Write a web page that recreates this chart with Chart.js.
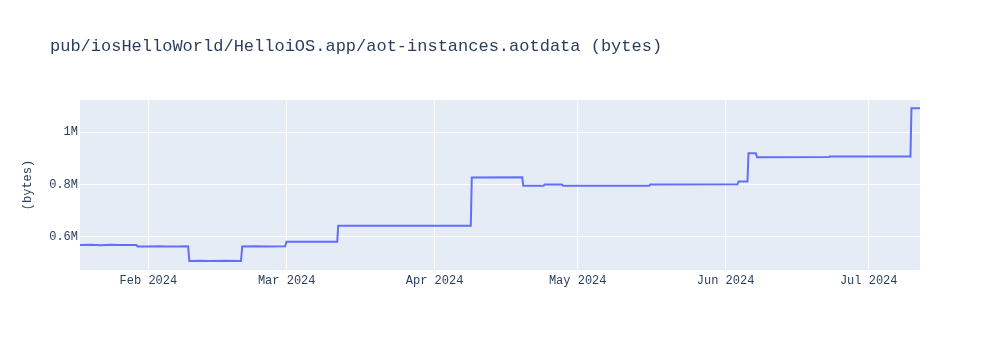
<!DOCTYPE html>
<html>
<head>
<meta charset="utf-8">
<script src="https://cdn.jsdelivr.net/npm/chart.js@4"></script>
<style>
  html, body { margin: 0; padding: 0; background: #fff; }
  #wrap { width: 1000px; height: 350px; position: relative; }
</style>
</head>
<body>
<div id="wrap"><canvas id="chart"></canvas></div>
<script>
// datos
const dates = [
  "2024-01-17T16:00", "2024-01-20T00:00", "2024-01-22T00:00", "2024-01-24T00:00",
  "2024-01-26T00:00", "2024-01-28T00:00", "2024-01-29T12:00", "2024-01-29T18:00",
  "2024-02-01T00:00", "2024-02-03T00:00", "2024-02-05T00:00", "2024-02-07T00:00",
  "2024-02-09T08:00", "2024-02-09T14:00", "2024-02-12T00:00", "2024-02-14T00:00",
  "2024-02-17T00:00", "2024-02-20T10:00", "2024-02-20T16:00", "2024-02-23T00:00",
  "2024-02-26T00:00", "2024-02-29T16:00", "2024-02-29T23:00", "2024-03-11T14:00",
  "2024-03-11T19:00", "2024-04-08T14:00", "2024-04-08T19:00", "2024-04-19T09:00",
  "2024-04-19T14:00", "2024-04-23T20:00", "2024-04-24T02:00", "2024-04-27T16:00",
  "2024-04-27T22:00", "2024-05-16T00:00", "2024-05-16T05:00", "2024-06-03T12:00",
  "2024-06-03T17:00", "2024-06-05T14:00", "2024-06-05T19:00", "2024-06-07T08:00",
  "2024-06-07T14:00", "2024-06-22T16:00", "2024-06-22T20:00", "2024-07-09T18:00",
  "2024-07-09T23:00", "2024-07-11T18:00"
];
const sizes = [
  568000, 569000, 567000, 569000,
  568000, 568500, 568000, 562000,
  562000, 563500, 562000, 562500,
  563000, 507000, 507500, 506500,
  507500, 507000, 562000, 563000,
  562000, 563000, 581000, 581000,
  642000, 642000, 827000, 828000,
  795000, 795000, 800000, 800000,
  795000, 795000, 800000, 801000,
  811000, 811000, 920000, 920000,
  904000, 905000, 907000, 907000,
  1092000, 1092000
];
const yTicks = [600000, 800000, 1000000];
const monthTicks = ["2024-02-01", "2024-03-01", "2024-04-01", "2024-05-01", "2024-06-01", "2024-07-01"];
const monthNames = ["Jan", "Feb", "Mar", "Apr", "May", "Jun", "Jul", "Aug", "Sep", "Oct", "Nov", "Dec"];
const yMin = 472300;
const yMax = 1123800;

const toMs = (s) => Date.parse(s + (s.length === 10 ? "T00:00:00Z" : ":00Z"));
const points = dates.map((d, i) => ({ x: toMs(d), y: sizes[i] }));

const FONT = "'Courier New', 'Liberation Mono', monospace";
const INK = "#2a3f5f";

// fondo del área de la gráfica y título
const plotBg = {
  id: "plotBg",
  beforeDraw(chart) {
    const { ctx, chartArea: a } = chart;
    ctx.save();
    ctx.fillStyle = "#E5ECF6";
    ctx.fillRect(a.left, a.top, a.right - a.left, a.bottom - a.top);
    ctx.restore();
  },
  afterDraw(chart) {
    const ctx = chart.ctx;
    ctx.save();
    ctx.font = "17px " + FONT;
    ctx.fillStyle = INK;
    ctx.textBaseline = "middle";
    ctx.fillText("pub/iosHelloWorld/HelloiOS.app/aot-instances.aotdata (bytes)", 50, 46);
    ctx.restore();
  },
};

new Chart(document.getElementById("chart"), {
  type: "line",
  data: {
    datasets: [
      {
        data: points,
        borderColor: "#636efa",
        borderWidth: 2,
        pointRadius: 0,
        tension: 0,
        fill: false,
      },
    ],
  },
  options: {
    responsive: true,
    maintainAspectRatio: false,
    animation: false,
    layout: { padding: { top: 100, right: 80, bottom: 50, left: 0 } },
    plugins: {
      legend: { display: false },
      tooltip: { enabled: false },
    },
    scales: {
      x: {
        type: "linear",
        min: points[0].x,
        max: points[points.length - 1].x,
        afterBuildTicks: (scale) => {
          scale.ticks = monthTicks.map((m) => ({ value: toMs(m) }));
        },
        afterFit: (scale) => { scale.height = 30; },
        grid: { color: "#ffffff", lineWidth: 1, drawTicks: false },
        border: { display: false },
        ticks: {
          padding: 4,
          maxRotation: 0,
          autoSkip: false,
          color: INK,
          font: { family: FONT, size: 12 },
          callback: (v) => {
            const d = new Date(v);
            return monthNames[d.getUTCMonth()] + " " + d.getUTCFullYear();
          },
        },
      },
      y: {
        min: yMin,
        max: yMax,
        afterBuildTicks: (scale) => {
          scale.ticks = yTicks.map((v) => ({ value: v }));
        },
        afterFit: (scale) => { scale.width = 80; },
        grid: { color: "#ffffff", lineWidth: 1, drawTicks: false },
        border: { display: false },
        ticks: {
          padding: 2,
          color: INK,
          font: { family: FONT, size: 12 },
          callback: (v) => v / 1e6 + "M",
        },
        title: {
          display: true,
          text: "(bytes)",
          color: INK,
          font: { family: FONT, size: 12 },
          padding: { top: 21, bottom: 0 },
        },
      },
    },
  },
  plugins: [plotBg],
});
</script>
</body>
</html>
